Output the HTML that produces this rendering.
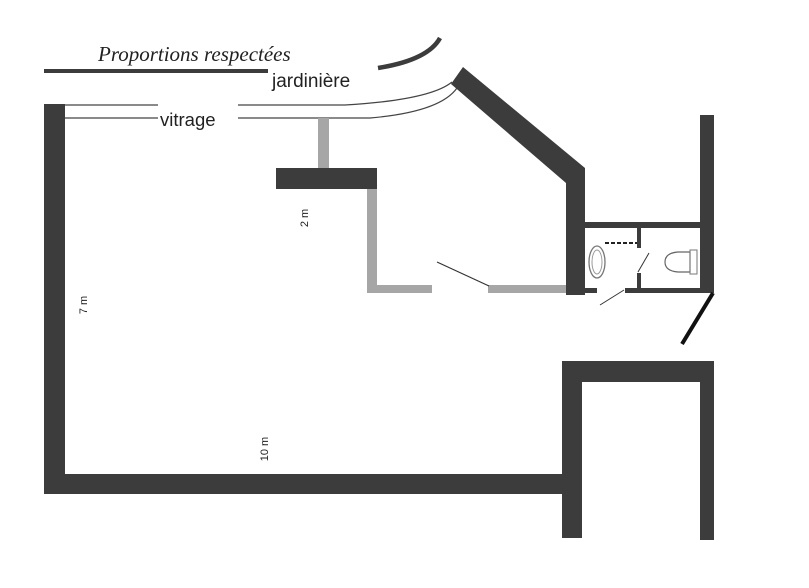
<!DOCTYPE html>
<html><head><meta charset="utf-8"><style>
html,body{margin:0;padding:0;background:#fff;}
svg{display:block;}
</style></head><body>
<svg width="809" height="588" viewBox="0 0 809 588" xmlns="http://www.w3.org/2000/svg">
<rect width="809" height="588" fill="#fff"/>
<text x="98" y="61" font-family="Liberation Serif, serif" font-style="italic" font-size="21" fill="#222">Proportions respectées</text>
<rect x="44" y="69" width="224" height="4" fill="#3c3c3c"/>
<text x="272" y="87" font-family="Liberation Sans, sans-serif" font-size="19" fill="#222">jardinière</text>
<path d="M378 68 Q428 60 440 38" fill="none" stroke="#3c3c3c" stroke-width="4.5"/>
<!-- window lines -->
<path d="M65 105 H158 M238 105 H345 Q430 100 452 82" fill="none" stroke="#444" stroke-width="1.2"/>
<path d="M65 118 H158 M238 118 H370 Q440 112 457 88" fill="none" stroke="#444" stroke-width="1.2"/>
<text x="160" y="126" font-family="Liberation Sans, sans-serif" font-size="18.5" fill="#222">vitrage</text>
<!-- main walls -->
<rect x="44" y="104" width="21" height="390" fill="#3c3c3c"/>
<rect x="44" y="474" width="538" height="20" fill="#3c3c3c"/>
<rect x="562" y="361" width="20" height="177" fill="#3c3c3c"/>
<rect x="562" y="361" width="152" height="21" fill="#3c3c3c"/>
<rect x="700" y="361" width="14" height="179" fill="#3c3c3c"/>
<!-- diagonal wall -->
<polygon points="451,84 463,67 585,168 585,295 566,295 566,183" fill="#3c3c3c"/>
<!-- interior -->
<rect x="318" y="118" width="11" height="52" fill="#a6a6a6"/>
<rect x="276" y="168" width="101" height="21" fill="#3c3c3c"/>
<rect x="367" y="189" width="10" height="104" fill="#a6a6a6"/>
<rect x="367" y="285" width="65" height="8" fill="#a6a6a6"/>
<rect x="488" y="285" width="78" height="8" fill="#a6a6a6"/>
<line x1="437" y1="262" x2="489" y2="286" stroke="#333" stroke-width="1.2"/>
<!-- bathroom -->
<rect x="585" y="222" width="120" height="6" fill="#3c3c3c"/>
<rect x="700" y="115" width="14" height="178" fill="#3c3c3c"/>
<rect x="585" y="288" width="12" height="5" fill="#3c3c3c"/>
<rect x="625" y="288" width="80" height="5" fill="#3c3c3c"/>
<rect x="637" y="228" width="4" height="20" fill="#3c3c3c"/>
<rect x="637" y="273" width="4" height="17" fill="#3c3c3c"/>
<line x1="605" y1="243" x2="637" y2="243" stroke="#222" stroke-width="2" stroke-dasharray="4,2"/>
<line x1="649" y1="253" x2="638" y2="272" stroke="#333" stroke-width="1"/>
<line x1="600" y1="305" x2="624" y2="290" stroke="#333" stroke-width="1"/>
<ellipse cx="597" cy="262" rx="8" ry="16" fill="none" stroke="#777" stroke-width="1.3"/>
<ellipse cx="597" cy="262" rx="5" ry="12" fill="none" stroke="#999" stroke-width="1"/>
<path d="M690 252 H678 Q665 253 665 262 Q665 271 678 272 H690 Z" fill="none" stroke="#666" stroke-width="1.2"/>
<rect x="690" y="250" width="7" height="24" fill="none" stroke="#777" stroke-width="1"/>
<line x1="713" y1="293" x2="682" y2="344" stroke="#111" stroke-width="4"/>
<!-- dimension labels -->
<text transform="translate(87,305) rotate(-90)" text-anchor="middle" font-family="Liberation Sans, sans-serif" font-size="11" fill="#222">7 m</text>
<text transform="translate(268,449) rotate(-90)" text-anchor="middle" font-family="Liberation Sans, sans-serif" font-size="11" fill="#222">10 m</text>
<text transform="translate(308,218) rotate(-90)" text-anchor="middle" font-family="Liberation Sans, sans-serif" font-size="11" fill="#222">2 m</text>
</svg>
</body></html>
